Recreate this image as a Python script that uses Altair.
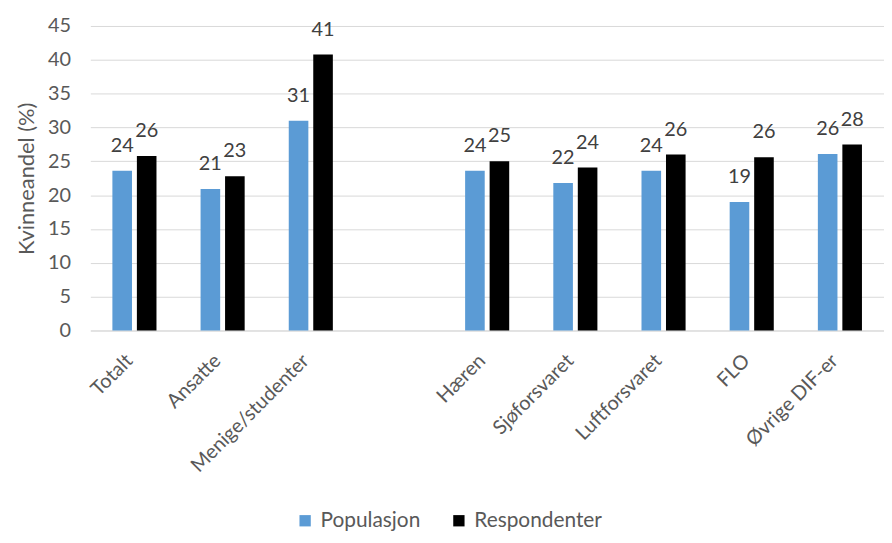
import altair as alt
import pandas as pd

categories = ["Totalt", "Ansatte", "Menige/studenter", " ", "Hæren", "Sjøforsvaret",
              "Luftforsvaret", "FLO", "Øvrige DIF-er"]
groups = ["Totalt", "Ansatte", "Menige/studenter", "Hæren", "Sjøforsvaret",
          "Luftforsvaret", "FLO", "Øvrige DIF-er"]
populasjon = [23.6, 20.9, 31.0, 23.6, 21.8, 23.6, 19.0, 26.1]
respondenter = [25.8, 22.8, 40.8, 25.0, 24.1, 26.0, 25.6, 27.5]
series = ["Populasjon", "Respondenter"]
colors = ["#5b9bd5", "#000000"]
yticks = [0, 5, 10, 15, 20, 25, 30, 35, 40, 45]

rows = []
for g, p, r in zip(groups, populasjon, respondenter):
    rows.append({"kategori": g, "serie": series[0], "verdi": p})
    rows.append({"kategori": g, "serie": series[1], "verdi": r})
df = pd.DataFrame(rows)

FONT = "Lato"
GREY = "#595959"

x = alt.X("kategori:N", sort=categories,
          scale=alt.Scale(domain=categories, paddingInner=0.5, paddingOuter=0.25),
          axis=alt.Axis(title=None, labelAngle=-45, labelFontSize=20, labelColor=GREY,
                        labelFont=FONT, ticks=False, domainColor="#d9d9d9",
                        labelPadding=20, labelOffset=-12, grid=False))
xo = alt.XOffset("serie:N", sort=series,
                 scale=alt.Scale(domain=series, paddingInner=0.2, paddingOuter=0))
y = alt.Y("verdi:Q", scale=alt.Scale(domain=[0, 45], nice=False),
          axis=alt.Axis(title="Kvinneandel (%)", values=yticks, labelFontSize=20,
                        labelColor=GREY, labelFont=FONT, titleFont=FONT,
                        titleFontSize=22, titleFontWeight="normal", titleColor=GREY,
                        ticks=False, domain=False, grid=True, gridColor="#d9d9d9",
                        labelPadding=20, titlePadding=9))

bars = alt.Chart(df).mark_bar().encode(
    x=x, xOffset=xo, y=y,
    color=alt.Color("serie:N", sort=series,
                    scale=alt.Scale(domain=series, range=colors),
                    legend=alt.Legend(title=None, orient="none", direction="horizontal",
                                      legendX=206, legendY=488, symbolType="square",
                                      symbolSize=130, symbolStrokeWidth=0,
                                      labelFontSize=21, labelFont=FONT, labelColor=GREY,
                                      columnPadding=28, labelOffset=5)),
)

labels = alt.Chart(df).mark_text(dy=-25, fontSize=20, font=FONT, color="#404040",
                                 baseline="middle").encode(
    x=x, xOffset=xo, y=y,
    text=alt.Text("verdi:Q", format=".0f"),
)

chart = alt.layer(bars, labels).properties(
    width=800, height=307,
    padding={"left": 83, "top": 16, "right": 0, "bottom": 204},
    autosize="none",
).configure_view(stroke=None)

chart.save("out.html", embed_options={"renderer": "svg", "actions": False})
